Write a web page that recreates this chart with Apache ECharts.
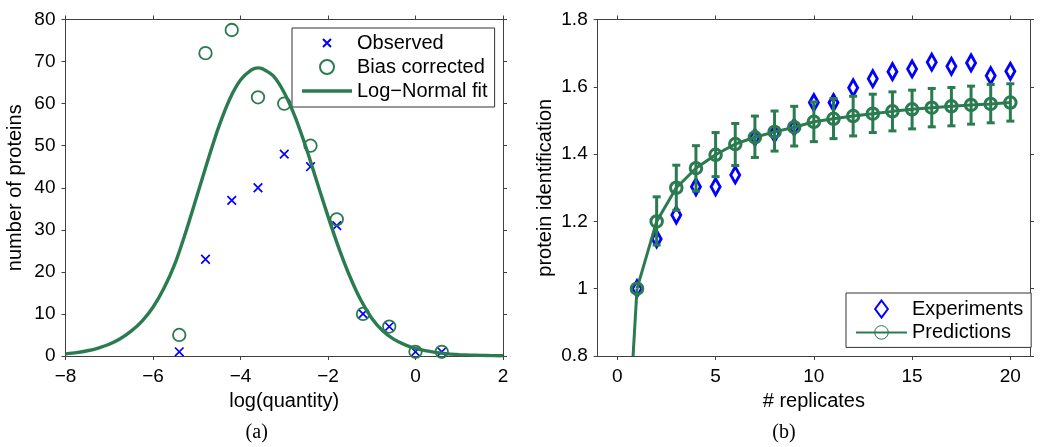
<!DOCTYPE html>
<html><head><meta charset="utf-8">
<script src="https://cdn.jsdelivr.net/npm/echarts@6/dist/echarts.min.js"></script>
<style>html,body{margin:0;padding:0;background:#fff}#c{width:1050px;height:447px}</style>
</head><body><div id="c"></div>
<script>
// ---- Panel (a) data ----
const logQuantity = [-5.4, -4.8, -4.2, -3.6, -3.0, -2.4, -1.8, -1.2, -0.6, 0.0, 0.6];
const observed = [1, 23, 37, 40, 48, 45, 31, 10, 7, 1, 1];
const biasCorrected = [5, 72, 77.5, 61.5, 60, 50, 32.5, 10, 7, 1, 1];
const fitX = [-8, -7.75, -7.5, -7.25, -7, -6.75, -6.5, -6.25, -6, -5.75, -5.5, -5.25, -5, -4.75, -4.5, -4.25, -4, -3.75, -3.6, -3.5, -3.25, -3, -2.75, -2.5, -2.25, -2, -1.75, -1.5, -1.25, -1, -0.75, -0.5, -0.25, 0, 0.25, 0.5, 0.75, 1, 1.25, 1.5, 1.75, 2];
const fitY = [0.5, 0.8, 1.25, 1.9, 2.8, 4.1, 5.9, 8.3, 11.6, 16.1, 21.9, 29.5, 37.9, 46.4, 54.4, 61, 65.6, 68.0, 68.5, 68.3, 66.6, 62.6, 56.8, 49.5, 41.3, 33.2, 25.6, 18.9, 13.3, 9.0, 6.0, 4.0, 2.7, 1.8, 1.2, 0.8, 0.5, 0.33, 0.22, 0.14, 0.09, 0.06];
const leftXTicks = [-8, -6, -4, -2, 0, 2];
const leftYTicks = [0, 10, 20, 30, 40, 50, 60, 70, 80];

// ---- Panel (b) data ----
const replicates = [1, 2, 3, 4, 5, 6, 7, 8, 9, 10, 11, 12, 13, 14, 15, 16, 17, 18, 19, 20];
const experiments = [1.0, 1.148, 1.219, 1.303, 1.303, 1.338, 1.45, 1.461, 1.48, 1.553, 1.553, 1.597, 1.624, 1.645, 1.653, 1.673, 1.661, 1.671, 1.633, 1.646];
const predictions = [1.0, 1.2, 1.3, 1.358, 1.398, 1.43, 1.45, 1.466, 1.48, 1.496, 1.505, 1.513, 1.52, 1.527, 1.533, 1.538, 1.542, 1.546, 1.549, 1.553];
const predLow = [null, 1.13, 1.233, 1.29, 1.333, 1.366, 1.39, 1.409, 1.424, 1.437, 1.446, 1.454, 1.464, 1.469, 1.475, 1.481, 1.484, 1.489, 1.493, 1.498];
const predHigh = [null, 1.273, 1.367, 1.425, 1.464, 1.491, 1.513, 1.528, 1.542, 1.555, 1.565, 1.572, 1.578, 1.585, 1.59, 1.595, 1.598, 1.602, 1.607, 1.609];
const predLeadX = [0.8, 1];
const predLeadY = [0.8, 1.0];
const rightXTicks = [0, 5, 10, 15, 20];
const rightYTicks = [0.8, 1, 1.2, 1.4, 1.6, 1.8];

const GREEN = '#2A7B4F';
const BLUE = '#0000FF';
const AX = '#404040';
const FONT = "'Liberation Sans', Arial, sans-serif";
const CLEAR = 'rgba(0,0,0,0)';
const X_PATH = 'path://M0,0M3,3L11,11M11,3L3,11M14,14';
const DIAMOND = 'path://M6,0L12,8L6,16L0,8Z';

const minus = v => String(v).replace('-', '\u2212');
const fmtR = v => String(+(+v).toFixed(1));

function axis(o) {
  const base = {
    type: 'value',
    axisLine: { show: true, onZero: false, lineStyle: { color: AX, width: 1 } },
    axisTick: { show: true, inside: false, length: 4, lineStyle: { color: AX, width: 1 }, customValues: o.ticks },
    axisLabel: { show: !!o.labels, customValues: o.ticks, color: '#000', fontSize: 19, fontFamily: FONT, margin: o.margin || 10, formatter: o.fmt, hideOverlap: false, showMinLabel: true, showMaxLabel: true },
    splitLine: { show: false },
    nameTextStyle: { color: '#000', fontSize: 20, fontFamily: FONT },
  };
  return Object.assign(base, o.extra);
}

const zip = (a, b) => a.map((v, i) => [v, b[i]]);

const option = {
  animation: false,
  backgroundColor: '#fff',
  grid: [
    { left: 65.5, right: 547, top: 19.5, bottom: 91 },
    { left: 597.7, right: 20, top: 19.5, bottom: 91 }
  ],
  xAxis: [
    axis({ ticks: leftXTicks, labels: true, fmt: minus, margin: 11, extra: { gridIndex: 0, position: 'bottom', min: leftXTicks[0], max: leftXTicks[leftXTicks.length - 1], name: 'log(quantity)', nameLocation: 'middle', nameGap: 35 } }),
    axis({ ticks: leftXTicks, labels: false, extra: { gridIndex: 0, position: 'top', min: leftXTicks[0], max: leftXTicks[leftXTicks.length - 1] } }),
    axis({ ticks: rightXTicks, labels: true, fmt: fmtR, margin: 11, extra: { gridIndex: 1, position: 'bottom', min: -1, max: 21, name: '# replicates', nameLocation: 'middle', nameGap: 35 } }),
    axis({ ticks: rightXTicks, labels: false, extra: { gridIndex: 1, position: 'top', min: -1, max: 21 } })
  ],
  yAxis: [
    axis({ ticks: leftYTicks, labels: true, fmt: fmtR, margin: 10, extra: { gridIndex: 0, position: 'left', min: leftYTicks[0], max: leftYTicks[leftYTicks.length - 1], name: 'number of proteins', nameLocation: 'middle', nameGap: 40 } }),
    axis({ ticks: leftYTicks, labels: false, extra: { gridIndex: 0, position: 'right', min: leftYTicks[0], max: leftYTicks[leftYTicks.length - 1] } }),
    axis({ ticks: rightYTicks, labels: true, fmt: fmtR, margin: 10, extra: { gridIndex: 1, position: 'left', min: rightYTicks[0], max: rightYTicks[rightYTicks.length - 1], name: 'protein identification', nameLocation: 'middle', nameGap: 42 } }),
    axis({ ticks: rightYTicks, labels: false, extra: { gridIndex: 1, position: 'right', min: rightYTicks[0], max: rightYTicks[rightYTicks.length - 1] } })
  ],
  legend: [
    {
      data: ['Observed', 'Bias corrected', { name: 'Log\u2212Normal fit', icon: 'path://M0,0H50V3.4H0Z' }],
      orient: 'vertical', left: 292, top: 28, itemWidth: 50, itemHeight: 14, itemGap: 4,
      padding: [5, 7, 6, 10], borderColor: '#333', borderWidth: 1, backgroundColor: '#fff',
      textStyle: { fontSize: 20, fontFamily: FONT, color: '#000' }, selectedMode: false, align: 'left'
    },
    {
      data: ['Experiments', { name: 'Predictions', itemStyle: { borderWidth: 1 } }],
      orient: 'vertical', left: 846, top: 293, itemWidth: 51, itemHeight: 17, itemGap: 3.4,
      padding: [6, 8, 5, 9], borderColor: '#333', borderWidth: 1, backgroundColor: '#fff',
      textStyle: { fontSize: 20, fontFamily: FONT, color: '#000' }, selectedMode: false, align: 'left'
    }
  ],
  series: [
    {
      name: 'Observed', type: 'scatter', xAxisIndex: 0, yAxisIndex: 0,
      data: zip(logQuantity, observed), symbol: X_PATH, symbolSize: 15, symbolKeepAspect: true,
      itemStyle: { color: CLEAR, borderColor: BLUE, borderWidth: 1.7, opacity: 1 }, z: 2
    },
    {
      name: 'Bias corrected', type: 'scatter', xAxisIndex: 0, yAxisIndex: 0,
      data: zip(logQuantity, biasCorrected), symbol: 'circle', symbolSize: 12.5,
      itemStyle: { color: CLEAR, borderColor: GREEN, borderWidth: 1.8, opacity: 1 }, z: 3
    },
    {
      name: 'Log\u2212Normal fit', type: 'line', xAxisIndex: 0, yAxisIndex: 0,
      data: zip(fitX, fitY), symbol: 'none', showSymbol: false, smooth: 0.25,
      lineStyle: { color: GREEN, width: 3.4 }, itemStyle: { color: GREEN }, z: 4
    },
    {
      name: 'Experiments', type: 'scatter', xAxisIndex: 2, yAxisIndex: 2,
      data: zip(replicates, experiments), symbol: DIAMOND, symbolSize: [12, 16], symbolKeepAspect: true,
      itemStyle: { color: CLEAR, borderColor: BLUE, borderWidth: 3, opacity: 1 }, z: 2
    },
    {
      name: 'errbars', type: 'custom', xAxisIndex: 2, yAxisIndex: 2,
      data: replicates.map((x, i) => [x, predLow[i], predHigh[i]]).filter(d => d[1] != null),
      renderItem: function (params, api) {
        const x = api.value(0);
        const lo = api.coord([x, api.value(1)]);
        const hi = api.coord([x, api.value(2)]);
        const hw = 4;
        const st = { stroke: GREEN, lineWidth: 3 };
        return { type: 'group', children: [
          { type: 'line', shape: { x1: lo[0], y1: lo[1], x2: hi[0], y2: hi[1] }, style: st },
          { type: 'line', shape: { x1: lo[0] - hw, y1: lo[1], x2: lo[0] + hw, y2: lo[1] }, style: st },
          { type: 'line', shape: { x1: hi[0] - hw, y1: hi[1], x2: hi[0] + hw, y2: hi[1] }, style: st }
        ] };
      },
      z: 3
    },
    {
      name: 'lead', type: 'line', xAxisIndex: 2, yAxisIndex: 2,
      data: zip(predLeadX, predLeadY), symbol: 'none', showSymbol: false,
      lineStyle: { color: GREEN, width: 3 }, itemStyle: { color: GREEN }, z: 4
    },
    {
      name: 'Predictions', type: 'line', xAxisIndex: 2, yAxisIndex: 2,
      data: zip(replicates, predictions), symbol: 'circle', symbolSize: 11.5, showAllSymbol: true,
      lineStyle: { color: GREEN, width: 3 }, itemStyle: { color: CLEAR, borderColor: GREEN, borderWidth: 3, opacity: 1 }, z: 4
    }
  ],
  graphic: [
    { type: 'text', x: 256.7, y: 433, style: { text: '(a)', fontSize: 20, fontFamily: "'Liberation Serif', 'Times New Roman', serif", fill: '#000', align: 'center', verticalAlign: 'middle' } },
    { type: 'text', x: 784, y: 433, style: { text: '(b)', fontSize: 20, fontFamily: "'Liberation Serif', 'Times New Roman', serif", fill: '#000', align: 'center', verticalAlign: 'middle' } }
  ]
};

const chart = echarts.init(document.getElementById('c'), null, { renderer: 'canvas' });
chart.setOption(option);
</script>
</body></html>
